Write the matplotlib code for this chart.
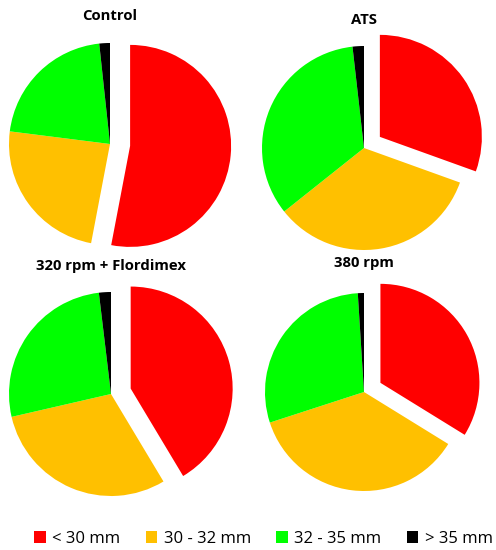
import matplotlib.pyplot as plt
from matplotlib.patches import Patch

plt.rcParams['font.family'] = ['Open Sans', 'DejaVu Sans']

# share of fruits per size class (%)
titles = ["Control", "ATS", "320 rpm + Flordimex", "380 rpm"]
size_classes = ["< 30 mm", "30 - 32 mm", "32 - 35 mm", "> 35 mm"]
control = [53.0, 24.0, 21.3, 1.7]
ats = [30.5, 33.8, 33.9, 1.8]
rpm320_flordimex = [41.4, 30.0, 26.7, 1.9]
rpm380 = [33.8, 36.2, 29.0, 1.0]
colors = ["#FF0000", "#FFC000", "#00FF00", "#000000"]

W, H = 496, 550
fig = plt.figure(figsize=(W / 100, H / 100), dpi=100)
ax = fig.add_axes([0, 0, 1, 1])

# pie centres / radii in pixels (y from top), title y positions
centers = [(110, 144), (364, 148), (111, 394), (364, 392)]
radii = [101, 102, 102, 99]
title_y = [16, 20, 266, 263]
explode_frac = [0.2, 0.19, 0.2, 0.19]

for vals, t, (cx, cy), r, ty, ex in zip(
        [control, ats, rpm320_flordimex, rpm380], titles, centers, radii, title_y, explode_frac):
    # explode is in data units here, so scale by the radius
    ax.pie(vals, colors=colors, startangle=90, counterclock=False,
           center=(cx, H - cy), radius=r, explode=[ex * r, 0, 0, 0],
           wedgeprops=dict(linewidth=0))
    ax.text(cx, H - ty, t, ha='center', va='center', fontsize=10.7, fontweight='bold')

ax.set_xlim(0, W)
ax.set_ylim(0, H)
ax.set_aspect('equal')
ax.axis('off')

handles = [Patch(facecolor=c, edgecolor='none') for c in colors]
fig.legend(handles, size_classes, loc='center', bbox_to_anchor=(263.5 / W, 1 - 539 / H),
           ncol=4, frameon=False, fontsize=12, handlelength=0.7, handleheight=0.7,
           handletextpad=0.4, columnspacing=1.5)

fig.savefig("out.png", dpi=100)
